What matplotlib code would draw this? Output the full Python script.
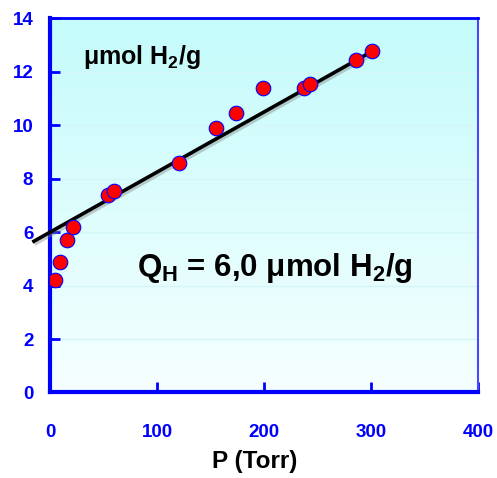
import numpy as np
import matplotlib
matplotlib.use("Agg")
import matplotlib.pyplot as plt
import matplotlib.patheffects as pe
from matplotlib.colors import LinearSegmentedColormap

plt.rcParams['font.family'] = ['Liberation Sans', 'DejaVu Sans']

# H2 uptake vs pressure
pressure = [4.7, 9.3, 16, 21.5, 54, 60, 121, 155, 174, 199, 237, 243, 286, 301]
uptake = [4.2, 4.9, 5.7, 6.2, 7.4, 7.55, 8.6, 9.9, 10.45, 11.4, 11.4, 11.55, 12.45, 12.8]

# linear fit of the high-pressure part, intercept = Q_H
fit_intercept = 6.0
fit_slope = 0.0225
fit_range = [-15, 300]

x_ticks = [0, 100, 200, 300, 400]
y_ticks = [0, 2, 4, 6, 8, 10, 12, 14]

blue = '#0000ff'

fig = plt.figure(figsize=(4.97, 4.78), dpi=100)
ax = fig.add_axes([0.1006, 0.1789, 0.8612, 0.7824])
ax.set_xlim(0, 400)
ax.set_ylim(0, 14)

# background gradient, cyan at the top fading to white
grad = np.linspace(0, 1, 256).reshape(-1, 1)
cmap = LinearSegmentedColormap.from_list('bg', ['#f6ffff', '#c4fbfb'])
ax.imshow(grad, cmap=cmap, aspect='auto', extent=[0, 400, 0, 14],
          origin='lower', zorder=0)

for y in y_ticks[1:-1]:
    ax.axhline(y, color='#d4f6f8', lw=1, zorder=1)

xf = np.array(fit_range)
yf = fit_intercept + fit_slope * xf
ax.plot(xf, yf, color='black', lw=2.6, clip_on=False, zorder=3,
        path_effects=[pe.SimpleLineShadow(offset=(1.5, -1.5), shadow_color='gray', alpha=0.4),
                      pe.Normal()])

ax.scatter(pressure, uptake, s=110, c='#ff0000', edgecolors=blue,
           linewidths=0.8, zorder=4)

ax.spines['left'].set_linewidth(3)
ax.spines['bottom'].set_linewidth(3)
ax.spines['top'].set_linewidth(2)
ax.spines['right'].set_linewidth(1.5)
for s in ax.spines.values():
    s.set_color(blue)
ax.spines['right'].set_color('#4848ff')

ax.set_xticks(x_ticks)
ax.set_yticks(y_ticks)
ax.tick_params(axis='both', direction='in', length=7, width=2, color=blue,
               labelcolor=blue, labelsize=13.5)
ax.tick_params(axis='x', pad=23)
ax.tick_params(axis='y', pad=12)
for lab in ax.get_xticklabels() + ax.get_yticklabels():
    lab.set_fontweight('bold')

ax.set_xlabel('P (Torr)', fontsize=17.5, fontweight='bold', labelpad=6)
ax.xaxis.set_label_coords(0.479, -0.155)

ax.text(0.077, 0.897, r'μmol H$_\mathregular{2}$/g', transform=ax.transAxes,
        fontsize=18, fontweight='bold', ha='left', va='center')
ax.text(0.5245, 0.333, r'Q$_\mathregular{H}$ = 6,0 μmol H$_\mathregular{2}$/g',
        transform=ax.transAxes, fontsize=22.5, fontweight='bold',
        ha='center', va='center')

fig.savefig('out.png', dpi=100)
